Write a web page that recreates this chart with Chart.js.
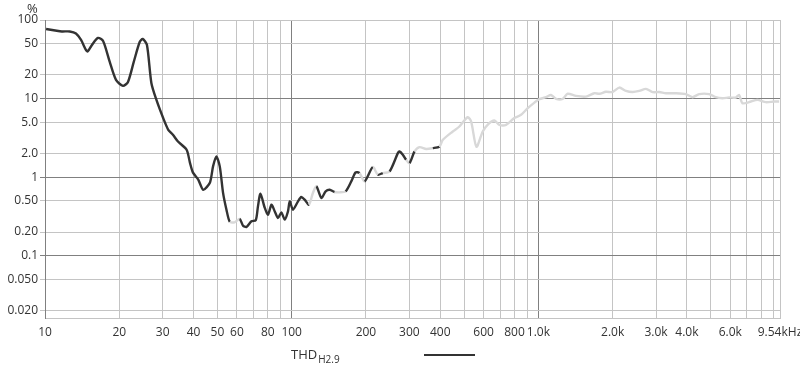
<!DOCTYPE html>
<html>
<head>
<meta charset="utf-8">
<script src="https://cdn.jsdelivr.net/npm/chart.js@4/dist/chart.umd.min.js"></script>
<style>
  body { margin: 0; background: #fff; }
  #thdChart { display: block; }
</style>
</head>
<body>
<canvas id="thdChart" width="800" height="366"></canvas>
<script>
// frequencies (Hz) and THD (%)
const freqs = [
  10.1, 11.0, 11.7, 12.6, 13.35, 14.0, 14.65, 14.9, 15.5, 16.4,
  17.2, 18.3, 19.4, 20.7, 21.7, 22.9, 24.2, 24.9, 25.9, 27.0,
  28.3, 30.1, 31.6, 33.0, 34.6, 37.5, 38.7, 39.8, 41.8, 43.8,
  46.6, 48.0, 49.5, 51.1, 52.7, 54.4, 56.1, 58.7, 61.5, 63.5,
  65.6, 68.7, 71.5, 73.0, 74.7, 77.8, 80.2, 82.8, 85.4, 88.0,
  90.8, 93.7, 96.6, 98.2, 101.2, 106.1, 109.4, 112.9, 117.5, 121.9,
  125.9, 131.9, 137.3, 142.6, 149.4, 156.4, 165.4, 174.4, 181.6, 188.4,
  197.5, 213.3, 223.5, 234.2, 249.4, 269.4, 273.5, 282.2, 291.2, 300.4,
  314.8, 329.7, 350.9, 373.3, 397.2, 410, 449.8, 478.6, 517.2, 534,
  561, 595, 628, 663.5, 695, 740, 799, 851, 905.6, 964,
  1009, 1074, 1125, 1180, 1254, 1314, 1421, 1559, 1686, 1766,
  1879, 1999, 2128, 2265, 2411, 2565, 2730, 2905, 3091, 3290,
  3609, 3960, 4214, 4484, 4920, 5241, 5574, 5931, 6311, 6511,
  6712, 7145, 7726, 8353, 9022, 9462
];
const thd = [
  76.9, 73.6, 71.5, 71.5, 67.4, 55.7, 41.6, 39.8, 48.1, 59.1,
  54.1, 29.3, 17.3, 14.5, 16.3, 29.3, 52.5, 57.4, 48.1, 15.7,
  9.6, 5.7, 4.0, 3.46, 2.84, 2.23, 1.52, 1.14, 0.93, 0.69,
  0.85, 1.37, 1.83, 1.37, 0.63, 0.385, 0.27, 0.266, 0.294, 0.241,
  0.232, 0.274, 0.282, 0.424, 0.615, 0.405, 0.333, 0.446, 0.366, 0.302,
  0.356, 0.288, 0.366, 0.491, 0.385, 0.491, 0.558, 0.516, 0.446, 0.628,
  0.762, 0.543, 0.658, 0.692, 0.647, 0.640, 0.658, 0.882, 1.147, 1.127,
  0.882, 1.344, 1.073, 1.127, 1.18, 2.02, 2.12, 1.93, 1.66, 1.51,
  2.12, 2.41, 2.28, 2.34, 2.45, 2.99, 3.81, 4.41, 5.80, 5.10,
  2.43, 3.81, 4.77, 5.25, 4.63, 4.63, 5.64, 6.21, 7.55, 8.89,
  9.83, 10.4, 11.1, 9.9, 9.9, 11.5, 10.8, 10.6, 11.7, 11.5,
  12.2, 12.1, 13.8, 12.5, 12.1, 12.5, 13.3, 12.1, 12.1, 11.7,
  11.7, 11.4, 10.4, 11.4, 11.4, 10.4, 10.1, 10.3, 10.3, 11.1,
  8.74, 9.0, 9.63, 9.0, 9.16, 9.16
];
// 1 = segment starting at this point is drawn dark, 0 = pale
const darkSeg = [
  1,1,1,1,1,1,1,1,1,1, 1,1,1,1,1,1,1,1,1,1,
  1,1,1,1,1,1,1,1,1,1, 1,1,1,1,1,1,0,0,1,1,
  1,1,1,1,1,1,1,1,1,1, 1,1,1,1,1,1,1,1,0,0,
  1,1,1,1,0,0,1,1,1,0, 1,0,1,0,1,1,1,1,0,1,
  0,0,0,1,0,0,0,0,0,0, 0,0,0,0,0,0,0,0,0,0,
  0,0,0,0,0,0,0,0,0,0, 0,0,0,0,0,0,0,0,0,0,
  0,0,0,0,0,0,0,0,0,0, 0,0,0,0,0,0
];

const xTicks = [10,20,30,40,50,60,70,80,90,100,200,300,400,500,600,700,800,900,
  1000,2000,3000,4000,5000,6000,7000,8000,9000,9540];
const xLabels = ['10','20','30','40','50','60','','80','','100','200','300','400','','600','','800','',
  '1.0k','2.0k','3.0k','4.0k','','6.0k','','','','9.54kHz'];
const yTicks = [0.02,0.05,0.1,0.2,0.5,1,2,5,10,20,50,100];
const yLabels = ['0.020','0.050','0.1','0.20','0.50','1','2.0','5.0','10','20','50','100'];

const DARK = '#333333';
const PALE = '#d8d8d8';
const MINOR = '#c4c4c4';
const MAJOR = '#808080';

function isDecade(v) {
  const l = Math.log10(v);
  return Math.abs(l - Math.round(l)) < 1e-9;
}

Chart.defaults.font.family = '"Open Sans", "DejaVu Sans", sans-serif';
Chart.defaults.font.size = 12;
Chart.defaults.color = '#333';

// extra labels: "%" above the y axis and the legend row
const labelsPlugin = {
  id: 'labels',
  afterDraw(chart) {
    const ctx = chart.ctx;
    ctx.save();
    ctx.fillStyle = '#333';
    ctx.textBaseline = 'alphabetic';
    ctx.font = '13px "Open Sans", sans-serif';
    ctx.textAlign = 'left';
    ctx.fillText('%', 27, 13);

    ctx.fillText('THD', 291, 359);
    const w = ctx.measureText('THD').width;
    ctx.font = '10px "Open Sans", sans-serif';
    ctx.fillText('H2.9', 291 + w + 1, 363);

    ctx.strokeStyle = DARK;
    ctx.lineWidth = 2;
    ctx.beginPath();
    ctx.moveTo(424, 355);
    ctx.lineTo(475, 355);
    ctx.stroke();
    ctx.restore();
  }
};

const points = freqs.map((f, i) => ({ x: f, y: thd[i] }));

new Chart(document.getElementById('thdChart'), {
  type: 'line',
  data: {
    datasets: [{
      label: 'THD H2.9',
      data: points,
      borderColor: DARK,
      borderWidth: 2.4,
      pointRadius: 0,
      fill: false,
      tension: 0.25,
      segment: {
        borderColor: c => darkSeg[c.p0DataIndex] ? DARK : PALE
      }
    }]
  },
  options: {
    responsive: false,
    animation: false,
    layout: { padding: { left: 0, right: 20, top: 20, bottom: 0 } },
    plugins: {
      legend: { display: false },
      tooltip: { enabled: false }
    },
    scales: {
      x: {
        type: 'logarithmic',
        min: 10,
        max: 9540,
        afterBuildTicks: s => { s.ticks = xTicks.map(v => ({ value: v })); },
        afterFit: s => { s.height = 48; s.paddingLeft = 0; s.paddingRight = 0; },
        ticks: {
          autoSkip: false,
          maxRotation: 0,
          padding: 7,
          color: '#333',
          callback: (v, i) => xLabels[i]
        },
        grid: {
          drawTicks: false,
          color: c => (c.tick && isDecade(c.tick.value)) ? MAJOR : MINOR,
          lineWidth: 1
        },
        border: { color: MINOR }
      },
      y: {
        type: 'logarithmic',
        min: 0.0161,
        max: 100,
        afterBuildTicks: s => { s.ticks = yTicks.map(v => ({ value: v })); },
        afterFit: s => { s.width = 45; s.paddingTop = 0; s.paddingBottom = 0; },
        ticks: {
          autoSkip: false,
          padding: 2,
          color: '#333',
          callback: (v, i) => yLabels[i]
        },
        grid: {
          tickLength: 5,
          color: c => {
            if (!c.tick) return MINOR;
            const v = c.tick.value;
            return (isDecade(v) && v < 50) ? MAJOR : MINOR;
          },
          lineWidth: 1
        },
        border: { color: MAJOR }
      }
    }
  },
  plugins: [labelsPlugin]
});
</script>
</body>
</html>
